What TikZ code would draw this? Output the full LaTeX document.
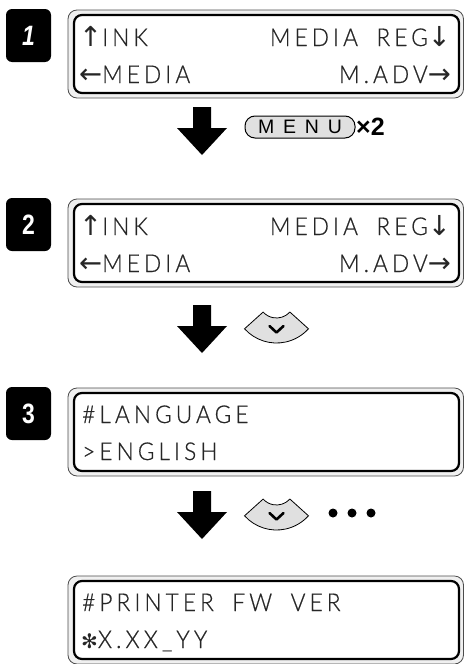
\documentclass[tikz,border=0pt]{standalone}
\usepackage{fontspec}
\newfontfamily\lcdfont{Lato Light}[LetterSpace=17, FakeStretch=0.92, WordSpace=1.8, FakeBold=0.6]
\newfontfamily\symfont{DejaVu Sans}
\newfontfamily\keyfont{Liberation Sans}
\newfontfamily\capfont{Liberation Sans}[LetterSpace=45]
\newfontfamily\badgefont{Liberation Sans}[FakeStretch=0.82]
\tikzset{
  lcdframe/.style={draw=black!70, line width=0.8pt, fill=black!6, rounded corners=9pt},
  lcdscreen/.style={draw=black, line width=2.2pt, fill=white, rounded corners=8pt},
  lcdtext/.style={inner sep=0pt, text=black!85, font=\lcdfont\fontsize{24.5}{28}\selectfont},
  stepbadge/.style={fill=black, rounded corners=6pt},
  steplabel/.style={inner sep=0pt, text=white, font=\badgefont\bfseries\fontsize{28}{30}\selectfont},
  keypad/.style={draw=black, line width=0.8pt, fill=black!12},
  keycap/.style={draw=black, line width=1pt, fill=black!12, rounded corners=10pt,
    minimum width=110pt, minimum height=22pt, inner sep=0pt,
    font=\capfont\fontsize{19.5}{20}\selectfont},
}
\newcommand\lcdsym[1]{{\symfont\fontsize{27.5}{28}\selectfont #1}}
\begin{document}
\begin{tikzpicture}[x=1pt, y=-1pt]
\useasboundingbox (0,0) rectangle (464,664);
% the four displays
\foreach \t in {10,199,388,576} {
  \draw[lcdframe] (68,\t) rectangle (463.5,\t+88);
  \draw[lcdscreen] (74,\t+5) rectangle (459,\t+83);
}
% step numbers
\foreach \n/\t in {1/10,2/199,3/388} {
  \fill[stepbadge] (6,\t-1) rectangle (51,\t+52);
}
\node[steplabel] (num1) at (28.5,36) {\itshape 1};
\node[steplabel] (num2) at (28.5,225) {2};
\node[steplabel] (num3) at (28.5,414) {3};
% display text
\node[lcdtext, anchor=base west] (d1a) at (79,46) {\lcdsym{↑}INK};
\node[lcdtext, anchor=base east] (d1b) at (451,46) {MEDIA REG\lcdsym{↓}};
\node[lcdtext, anchor=base west] (d1c) at (79,83) {\lcdsym{←}MEDIA};
\node[lcdtext, anchor=base east] (d1d) at (451,83) {M.ADV\lcdsym{→}};
\node[lcdtext, anchor=base west] (d2a) at (79,235) {\lcdsym{↑}INK};
\node[lcdtext, anchor=base east] (d2b) at (451,235) {MEDIA REG\lcdsym{↓}};
\node[lcdtext, anchor=base west] (d2c) at (79,272) {\lcdsym{←}MEDIA};
\node[lcdtext, anchor=base east] (d2d) at (451,272) {M.ADV\lcdsym{→}};
\node[lcdtext, anchor=base west] (d3a) at (82,423) {\#LANGUAGE};
\node[lcdtext, anchor=base west] (d3b) at (82,460) {>ENGLISH};
\node[lcdtext, anchor=base west] (d4a) at (82,611) {\#PRINTER FW VER};
\node[lcdtext, anchor=base west] (d4b) at (81,648) {{\symfont\fontsize{20}{24}\selectfont ✻}X.XX\_YY};
% down arrows
\foreach \t in {107,305,491} {
  \fill (193,\t) -- (211,\t) -- (211,\t+21) -- (227,\t+21) -- (202,\t+48)
    -- (177,\t+21) -- (193,\t+21) -- cycle;
}
% keys
\node[keycap] (menu) at (300,127) {MENU};
\node[anchor=west, inner sep=0.5pt, font=\keyfont\bfseries\fontsize{25}{26}\selectfont] (twice) at (menu.east) {×2};
\foreach \c in {300,487} {
  \draw[keypad] ([shift={(276.5,\c)}]42:18) arc[start angle=42, end angle=138, radius=18]
    -- ([shift={(276.5,\c)}]138:43) arc[start angle=138, end angle=42, radius=43] -- cycle;
  \draw[line width=2.6pt, line cap=round, line join=round] (269.5,\c+26) -- (276.5,\c+32.5) -- (283.5,\c+26);
}
\foreach \x in {333,352,371} {
  \fill (\x,513) circle (4.5);
}
\end{tikzpicture}
\end{document}
